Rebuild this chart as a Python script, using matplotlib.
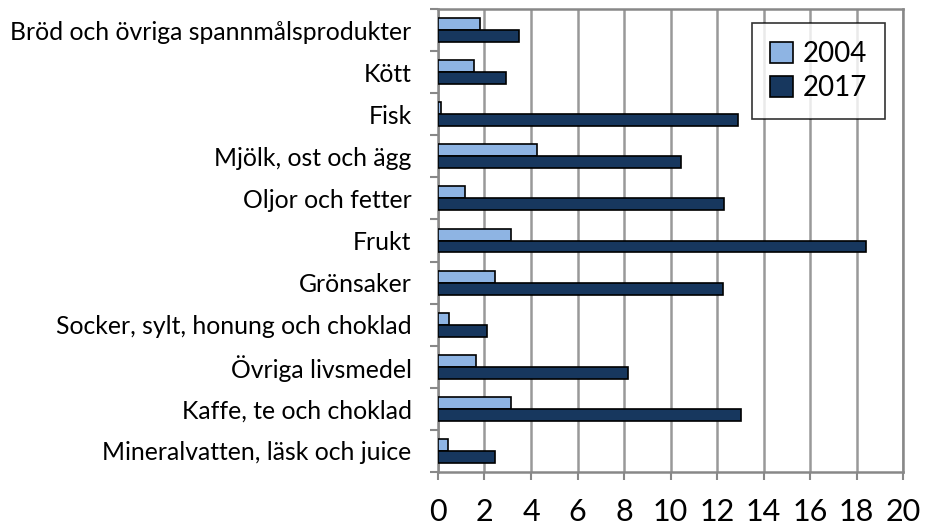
import matplotlib
matplotlib.use('Agg')
import matplotlib.pyplot as plt
import numpy as np

plt.rcParams['font.family'] = ['Lato', 'DejaVu Sans']

kategorier = ['Bröd och övriga spannmålsprodukter', 'Kött', 'Fisk', 'Mjölk, ost och ägg',
              'Oljor och fetter', 'Frukt', 'Grönsaker', 'Socker, sylt, honung och choklad',
              'Övriga livsmedel', 'Kaffe, te och choklad', 'Mineralvatten, läsk och juice']
v2004 = [1.8, 1.53, 0.14, 4.27, 1.17, 3.15, 2.47, 0.47, 1.63, 3.12, 0.44]
v2017 = [3.5, 2.92, 12.92, 10.44, 12.3, 18.4, 12.26, 2.09, 8.16, 13.05, 2.44]
xticks = list(range(0, 21, 2))

fig = plt.figure(figsize=(9.28, 5.28), dpi=100)
ax = fig.add_axes([438/928, 1 - 472/528, (903 - 438)/928, (472 - 9)/528])

y = np.arange(len(kategorier))
h = 0.285
ax.barh(y - h/2, v2004, height=h, color='#8EB4E3', edgecolor='black', linewidth=1.2, label='2004', zorder=3)
ax.barh(y + h/2, v2017, height=h, color='#17375E', edgecolor='black', linewidth=1.2, label='2017', zorder=3)

ax.set_ylim(len(kategorier) - 0.5, -0.5)
ax.set_xlim(0, 20)
ax.set_xticks(xticks)
ax.set_xticklabels([str(t) for t in xticks], fontsize=22)
ax.set_yticks(y)
ax.set_yticklabels(kategorier, fontsize=17.8)
ax.set_yticks(np.arange(len(kategorier) + 1) - 0.5, minor=True)
ax.tick_params(axis='y', which='major', length=0, pad=19)
ax.tick_params(axis='y', which='minor', length=6, color='#888888', width=1.5)
ax.tick_params(axis='x', length=6, color='#888888', width=1.5, pad=13)
ax.grid(axis='x', color='#999999', linewidth=1.8, zorder=0)
for s in ax.spines.values():
    s.set_color('#888888')
    s.set_linewidth(1.8)

leg = ax.legend(loc='upper right', bbox_to_anchor=(0.961, 0.97), borderaxespad=0, fontsize=20,
                frameon=True, fancybox=False, edgecolor='black', handlelength=0.8, handleheight=0.8,
                handletextpad=0.35, borderpad=0.65, labelspacing=0.3)
leg.get_frame().set_linewidth(1.2)

fig.savefig('out.png', dpi=100)
